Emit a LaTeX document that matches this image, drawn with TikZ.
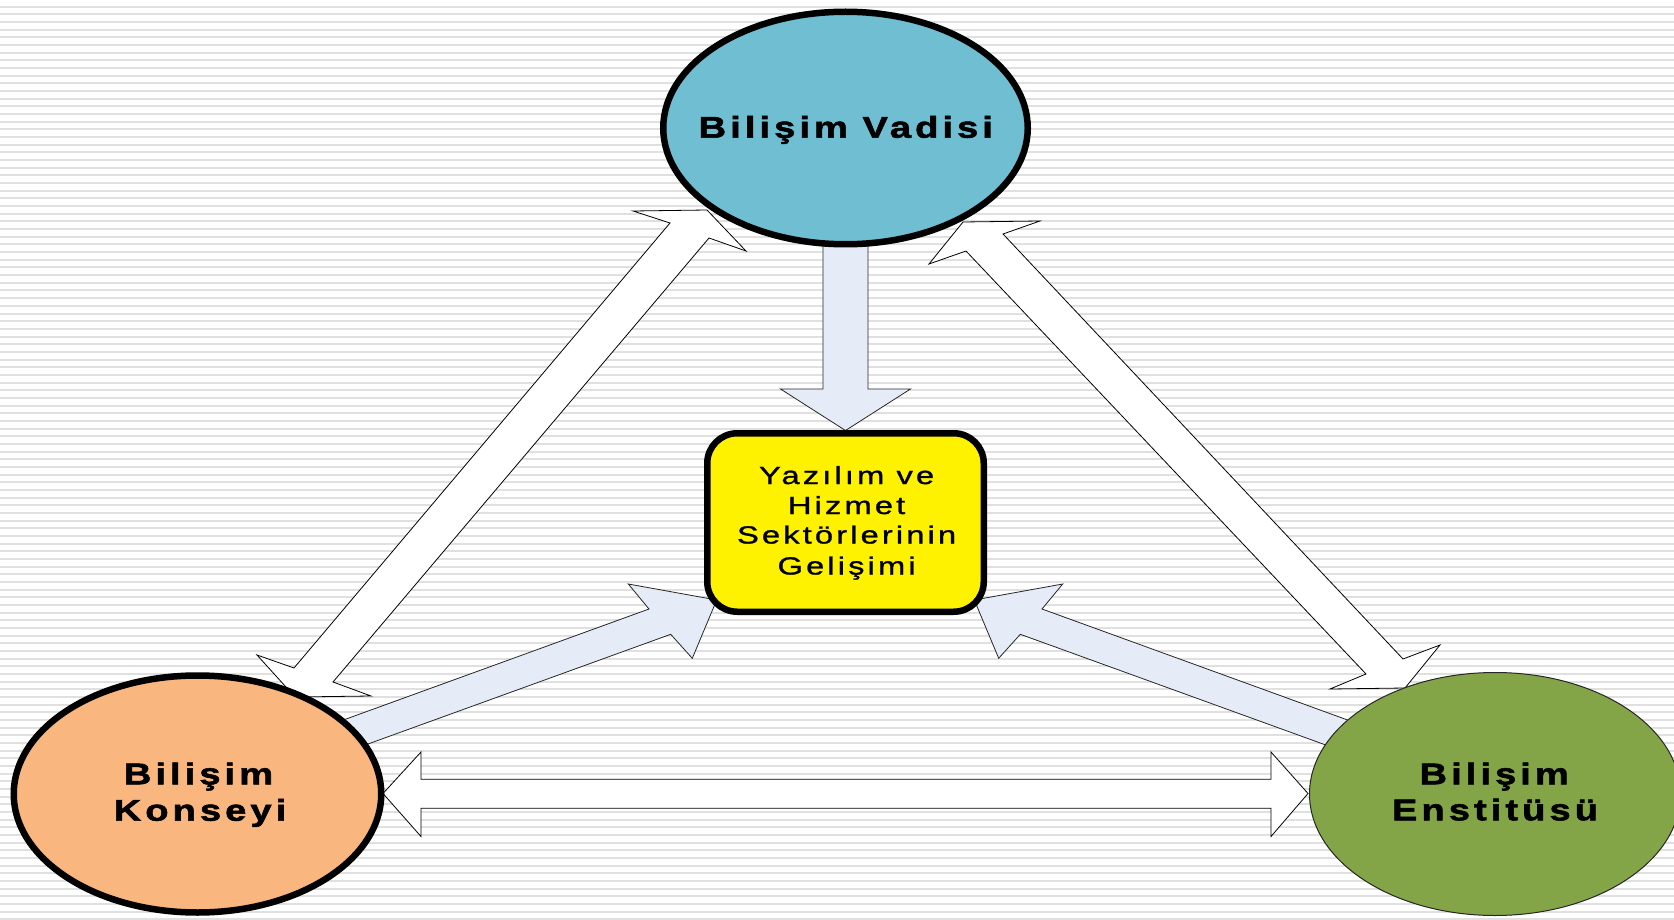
\documentclass[tikz,border=0pt]{standalone}
\usepackage{fontspec}
\setmainfont{Liberation Sans}
\newfontfamily\lblfont{Liberation Sans}[FakeStretch=1.27,LetterSpace=13.5,FakeBold=1.8]
\newfontfamily\boxfont{Liberation Sans}[FakeStretch=1.32,LetterSpace=12.5,FakeBold=1.1]
\usetikzlibrary{shapes.geometric}
\definecolor{vadisi}{RGB}{112,190,210}
\definecolor{konsey}{RGB}{249,182,127}
\definecolor{enstitu}{RGB}{132,165,71}
\definecolor{arrowblue}{RGB}{230,236,247}
\definecolor{stripe}{RGB}{224,224,224}
\tikzset{
  whitearrow/.style={fill=white, draw=black, line width=0.8pt, line join=miter},
  bluearrow/.style={fill=arrowblue, draw=black!85, line width=0.8pt, line join=miter},
  bigoval/.style={ellipse, inner sep=0pt},
  ovaltext/.style={anchor=base, inner sep=0pt, font=\lblfont\bfseries\fontsize{30}{36.4}\selectfont},
  boxtext/.style={anchor=base, inner sep=0pt, font=\boxfont\fontsize{24.8}{30.3}\selectfont},
}
\begin{document}
\begin{tikzpicture}[x=1pt,y=-1pt]
\useasboundingbox (0,0) rectangle (1674,920);
\fill[white] (0,0) rectangle (1674,920);
\foreach \i in {0,...,120}
  \draw[stripe, line width=2pt] (0,{6.7+7.67*\i}) -- (1674,{6.7+7.67*\i});

% white double arrows
\draw[whitearrow] (707,210) -- (746,251) -- (709,238) -- (333,682) -- (371,696) -- (295,697) -- (257,655) -- (294,668) -- (670,223) -- (633,211) -- cycle;
\draw[whitearrow] (963,222) -- (1040,221) -- (1003,234) -- (1403,659) -- (1440,645) -- (1405,688) -- (1330,689) -- (1366,674) -- (966,251) -- (929,264) -- cycle;
\draw[whitearrow] (383,793.5) -- (421,752) -- (421,779.3) -- (1271,779.3) -- (1271,752) -- (1308,793.5) -- (1271,836.5) -- (1271,808.3) -- (421,808.3) -- (421,836.5) -- cycle;

% blue arrows
\draw[bluearrow] (823,235) -- (868,235) -- (868,389) -- (910.5,389) -- (845.5,430.5) -- (780.5,389) -- (823,389) -- cycle;
\draw[bluearrow] (716.7,600) -- (692.3,658.3) -- (670.7,634.3) -- (341.8,753.5) -- (320,728.5) -- (649,609) -- (628.3,584) -- cycle;
\draw[bluearrow] (974.3,600) -- (998.7,658.3) -- (1020.3,634.3) -- (1349.2,753.5) -- (1371,728.5) -- (1042,609) -- (1062.7,584) -- cycle;

% ovals
\node[bigoval, draw=black, line width=6.5pt, fill=vadisi, minimum width=364.5pt, minimum height=232.5pt] (vadisi) at (845.5,128) {};
\node[bigoval, draw=black, line width=6.5pt, fill=konsey, minimum width=367.5pt, minimum height=237pt] (konsey) at (197.5,794) {};
\node[bigoval, draw=black!85, line width=1pt, fill=enstitu, minimum width=371pt, minimum height=243pt] (enstitu) at (1495,794) {};

\node[ovaltext] (vadisiT) at (845.8,137.7) {Bilişim Vadisi};
\node[ovaltext] (konseyT1) at (198.5,784.3) {Bilişim};
\node[ovaltext] (konseyT2) at (200,820.7) {Konseyi};
\node[ovaltext] (enstituT1) at (1494.2,784.3) {Bilişim};
\node[ovaltext] (enstituT2) at (1495,820.3) {Enstitüsü};

% centre box
\node[rectangle, rounded corners=30pt, draw=black, line width=6.5pt, fill=yellow, minimum width=276.5pt, minimum height=178.5pt, inner sep=0pt] (sektor) at (845.5,522.5) {};
\node[boxtext] (sektorT1) at (846.6,484) {Yazılım ve};
\node[boxtext] (sektorT2) at (846.6,514) {Hizmet};
\node[boxtext] (sektorT3) at (846.6,543.5) {Sektörlerinin};
\node[boxtext] (sektorT4) at (846.6,574.5) {Gelişimi};
\end{tikzpicture}
\end{document}
